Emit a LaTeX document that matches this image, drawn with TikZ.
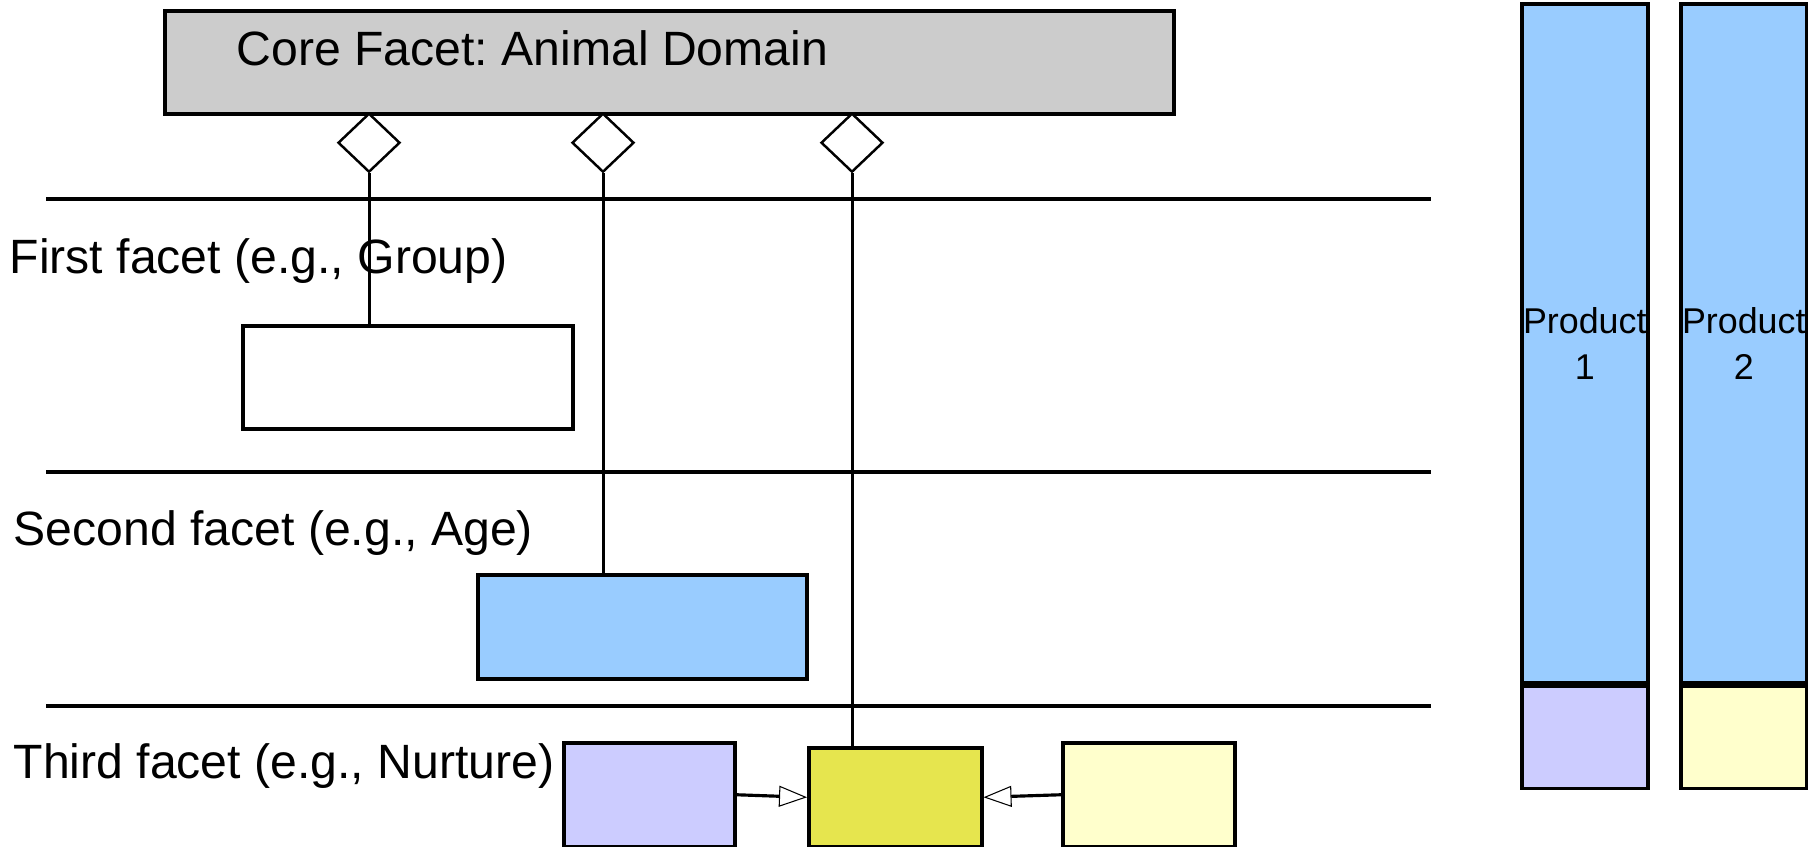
\documentclass[tikz,border=0pt]{standalone}
\usepackage{fontspec}
\setmainfont{Liberation Sans}
\frenchspacing
\usetikzlibrary{shapes.geometric,arrows.meta}
\definecolor{fcgray}{HTML}{CCCCCC}
\definecolor{fcblue}{HTML}{99CCFF}
\definecolor{fcviolet}{HTML}{CCCCFF}
\definecolor{fcyellow}{HTML}{E6E54E}
\definecolor{fcpale}{HTML}{FFFFCC}
\tikzset{
  facetbox/.style={draw, line width=1pt, rectangle, inner sep=0pt, anchor=north west},
  ownedby/.style={draw, line width=0.7pt, fill=white, diamond, inner sep=0pt,
    minimum width=0.62cm, minimum height=0.59cm, anchor=north},
  facetlabel/.style={anchor=west, inner sep=0pt, font=\fontsize{13.7}{16}\selectfont},
  prodlabel/.style={align=center, font=\fontsize{10.2}{13.1}\selectfont},
  link/.style={line width=0.85pt},
  sepline/.style={line width=0.9pt},
  inherits/.style={line width=0.9pt,
    -{Triangle[length=0.28cm, width=0.21cm, fill=white, line width=0.3pt]}}
}

\begin{document}
\begin{tikzpicture}[x=1cm, y=-1cm]
  \useasboundingbox (0,0) rectangle (18.08,8.47);
  % core facet with its three aggregation diamonds
  \node[facetbox, fill=fcgray, minimum width=10.09cm, minimum height=1.03cm] (core) at (1.63,0.09) {};
  \node[facetlabel] (coretxt) at (2.36,0.48) {Core Facet: Animal Domain};
  \node[ownedby] (own1) at (3.69,1.12) {};
  \node[ownedby] (own2) at (6.03,1.12) {};
  \node[ownedby] (own3) at (8.52,1.12) {};
  % facet separators
  \foreach \y in {1.99,4.72,7.06}
    \draw[sepline] (0.46,\y) -- (14.31,\y);
  % facet rows
  \node[facetlabel] (lblfirst) at (0.09,2.61) {First facet (e.g., Group)};
  \node[facetlabel] (lblsecond) at (0.13,5.33) {Second facet (e.g., Age)};
  \node[facetlabel] (lblthird) at (0.13,7.66) {Third facet (e.g., Nurture)};
  \node[facetbox, fill=white, minimum width=3.30cm, minimum height=1.03cm] (grpbox) at (2.41,3.24) {};
  \node[facetbox, fill=fcblue, minimum width=3.29cm, minimum height=1.04cm] (agebox) at (4.76,5.73) {};
  \node[facetbox, fill=fcviolet, minimum width=1.71cm, minimum height=1.04cm] (nurA) at (5.62,7.41) {};
  \node[facetbox, fill=fcyellow, minimum width=1.73cm, minimum height=0.99cm] (nurB) at (8.07,7.46) {};
  \node[facetbox, fill=fcpale, minimum width=1.72cm, minimum height=1.04cm] (nurC) at (10.61,7.41) {};
  % links from the core facet down to each row
  \draw[link] (own1.south) -- (own1.south |- grpbox.north);
  \draw[link] (own2.south) -- (own2.south |- agebox.north);
  \draw[link] (own3.south) -- (own3.south |- nurB.north);
  % specialisation arrows in the third row
  \draw[inherits] (nurA.east) -- (nurB.west);
  \draw[inherits] (nurC.west) -- (nurB.east);
  % products
  \node[facetbox, fill=fcblue, minimum width=1.26cm, minimum height=6.79cm] (prodA) at (15.20,0.02) {};
  \node[prodlabel] (prodAtxt) at (prodA.center) {Product\\1};
  \node[facetbox, fill=fcviolet, minimum width=1.26cm, minimum height=1.02cm] (prodAlow) at (prodA.south west) {};
  \node[facetbox, fill=fcblue, minimum width=1.26cm, minimum height=6.79cm] (prodB) at (16.79,0.02) {};
  \node[prodlabel] (prodBtxt) at (prodB.center) {Product\\2};
  \node[facetbox, fill=fcpale, minimum width=1.26cm, minimum height=1.02cm] (prodBlow) at (prodB.south west) {};
\end{tikzpicture}
\end{document}
